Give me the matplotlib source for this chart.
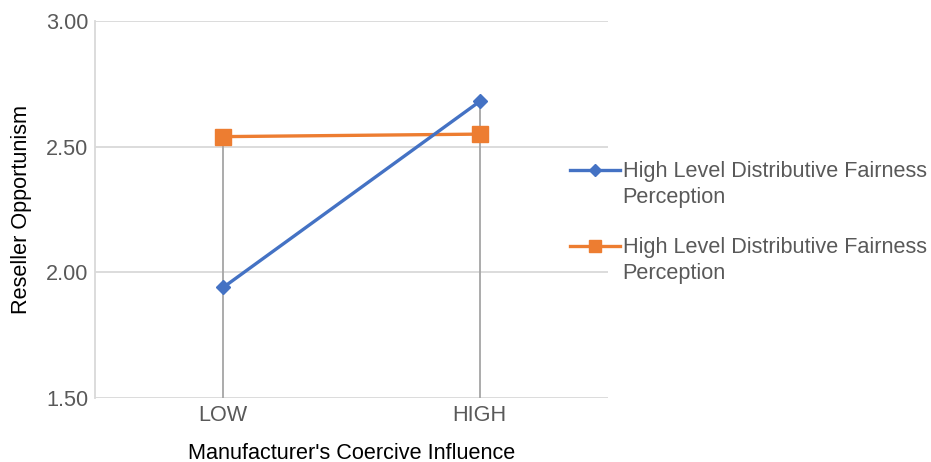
import matplotlib
matplotlib.use("Agg")
import matplotlib.pyplot as plt
from matplotlib.lines import Line2D

plt.rcParams['font.family'] = ['Liberation Sans', 'DejaVu Sans']

# data
categories = ['LOW', 'HIGH']
series_names = ['High Level Distributive Fairness\nPerception',
                'High Level Distributive Fairness\nPerception']
blue_vals = [1.94, 2.68]
orange_vals = [2.54, 2.55]
yticks = [1.50, 2.00, 2.50, 3.00]

fs = 15.6

fig = plt.figure(figsize=(9.31, 4.62), dpi=100)
ax = fig.add_axes([0.102, 0.1385, 0.551, 0.816])

x = list(range(len(categories)))

# drop lines from axis to the highest point of each category
tops = [max(a, b) for a, b in zip(blue_vals, orange_vals)]
ax.vlines(x, yticks[0], tops, color='#A5A5A5', linewidth=1.3, zorder=2)

blue, = ax.plot(x, blue_vals, color='#4472C4', linewidth=2.4, marker='D',
                markersize=7.6, zorder=4)
orange, = ax.plot(x, orange_vals, color='#ED7D31', linewidth=2.4, marker='s',
                  markersize=11, zorder=3)

ax.set_xlim(-0.5, 1.5)
ax.set_ylim(1.5, 3.0)
ax.set_xticks(x)
ax.set_xticklabels(categories)
ax.set_yticks(yticks)
ax.set_yticklabels(['%.2f' % v for v in yticks])
ax.tick_params(length=0, labelsize=fs, colors='#595959', pad=5)

ax.grid(axis='y', color='#D9D9D9', linewidth=1.3)
ax.set_axisbelow(True)
for side in ['top', 'right', 'bottom']:
    ax.spines[side].set_visible(False)
ax.spines['left'].set_color('#D9D9D9')
ax.spines['left'].set_linewidth(1.3)

ax.set_ylabel('Reseller Opportunism', fontsize=fs, color='black', labelpad=10)
ax.set_xlabel("Manufacturer's Coercive Influence", fontsize=fs, color='black', labelpad=12)

# legend: handle sits on the first line of each wrapped label, like Excel
blank = Line2D([], [], linestyle='none')
leg_blue = Line2D([], [], color='#4472C4', linewidth=2.4, marker='D', markersize=6)
leg_orange = Line2D([], [], color='#ED7D31', linewidth=2.4, marker='s', markersize=8.6)
handles, labels = [], []
for i, (h, name) in enumerate(zip([leg_blue, leg_orange], series_names)):
    if i > 0:
        handles.append(blank)
        labels.append(' ')
    lines = name.split('\n')
    handles.append(h)
    labels.append(lines[0])
    for extra in lines[1:]:
        handles.append(blank)
        labels.append(extra)

fig.legend(handles, labels, loc='upper left', bbox_to_anchor=(0.612, 0.651),
           frameon=False, fontsize=fs, handlelength=2.3, handletextpad=0.14,
           labelspacing=0.2, borderpad=0, borderaxespad=0, labelcolor='#595959')

fig.savefig('out.png', dpi=100)
